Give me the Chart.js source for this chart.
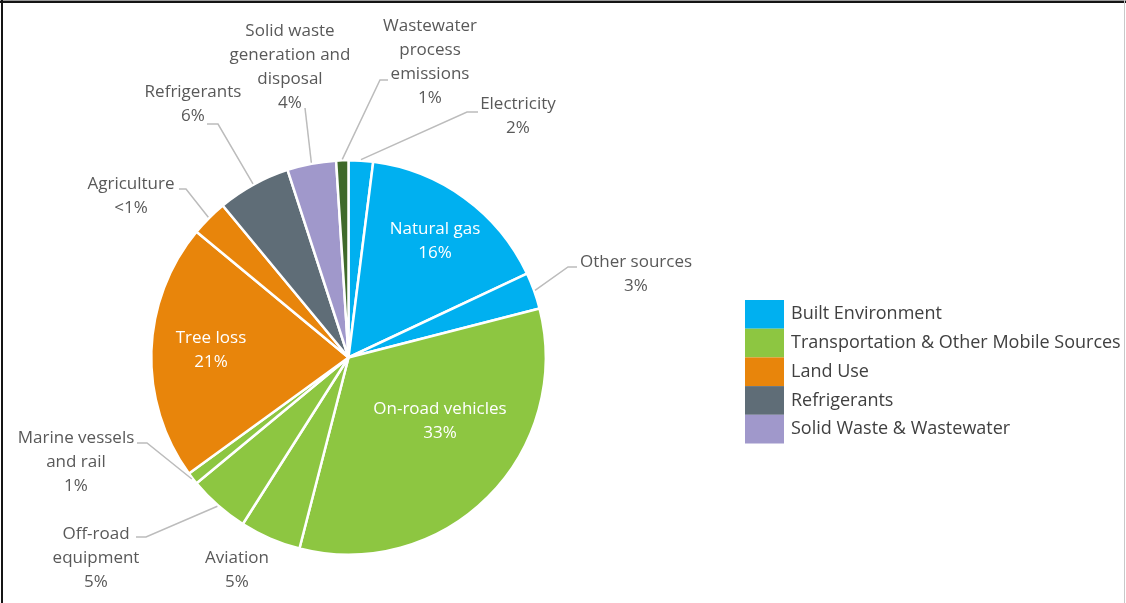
<!DOCTYPE html>
<html>
<head>
<meta charset="utf-8">
<title>Emissions by source</title>
<script src="https://cdn.jsdelivr.net/npm/chart.js@4.4.1/dist/chart.umd.min.js"></script>
<style>
  html, body { margin: 0; padding: 0; background: #fff; }
  #wrap { width: 1126px; height: 603px; }
</style>
</head>
<body>
<div id="wrap"><canvas id="pieChart" width="1126" height="603"></canvas></div>
<script>
// slices, clockwise from 12 o'clock
const sources = [
  'Electricity', 'Natural gas', 'Other sources', 'On-road vehicles', 'Aviation',
  'Off-road equipment', 'Marine vessels and rail', 'Tree loss', 'Agriculture',
  'Refrigerants', 'Solid waste generation and disposal', 'Wastewater process emissions'
];
const shares = [2, 16, 3, 33, 5, 5, 1, 21, 3, 6, 4, 1];
const shareLabels = ['2%', '16%', '3%', '33%', '5%', '5%', '1%', '21%', '<1%', '6%', '4%', '1%'];
const sectorOf = [0, 0, 0, 1, 1, 1, 1, 2, 2, 3, 4, 5];

// legend groups
const sectors = ['Built Environment', 'Transportation & Other Mobile Sources', 'Land Use', 'Refrigerants', 'Solid Waste & Wastewater'];
const sectorColors = ['#00b0f0', '#8dc641', '#e8850b', '#5f6d77', '#a098cb', '#3f6a2b'];

// how each slice label is broken into lines
const labelLines = [
  ['Electricity'], ['Natural gas'], ['Other sources'], ['On-road vehicles'], ['Aviation'],
  ['Off-road', 'equipment'], ['Marine vessels', 'and rail'], ['Tree loss'], ['Agriculture'],
  ['Refrigerants'], ['Solid waste', 'generation and', 'disposal'], ['Wastewater', 'process', 'emissions']
];

// label placement (text centre of first line) and leader elbows, pixels
const labelSpots = [
  { x: 518, y: 104, elbow: [467, 112], end: [478, 112] },
  { x: 435, y: 229, inside: true },
  { x: 636, y: 262, elbow: [568, 267], end: [577, 267] },
  { x: 440, y: 409, inside: true },
  { x: 237, y: 558 },
  { x: 96, y: 534, elbow: [146, 537], end: [136, 537] },
  { x: 76, y: 438, elbow: [147, 443], end: [137, 443] },
  { x: 211, y: 338, inside: true },
  { x: 131, y: 184, elbow: [186, 189], end: [179, 189] },
  { x: 193, y: 92, elbow: [218, 124], end: [207, 124] },
  { x: 290, y: 31, elbow: [305, 108], end: [305, 108] },
  { x: 430, y: 26, elbow: [380, 80], end: [388, 80] }
];

const FONT = '17px "Open Sans", "Noto Sans", sans-serif';
const LINE_H = 24;

const sliceLabels = {
  id: 'sliceLabels',
  afterDatasetsDraw(chart) {
    const ctx = chart.ctx;
    const meta = chart.getDatasetMeta(0);
    ctx.save();
    ctx.font = FONT;
    ctx.textAlign = 'center';
    ctx.textBaseline = 'middle';
    meta.data.forEach((arc, i) => {
      const p = arc.getProps(['x', 'y', 'startAngle', 'endAngle', 'outerRadius'], true);
      const spot = labelSpots[i];
      if (spot.elbow) {
        const mid = (p.startAngle + p.endAngle) / 2;
        const r = p.outerRadius + 1;
        ctx.strokeStyle = '#bcbcbc';
        ctx.lineWidth = 1.5;
        ctx.beginPath();
        ctx.moveTo(p.x + Math.cos(mid) * r, p.y + Math.sin(mid) * r);
        ctx.lineTo(spot.elbow[0], spot.elbow[1]);
        ctx.lineTo(spot.end[0], spot.end[1]);
        ctx.stroke();
      }
      ctx.fillStyle = spot.inside ? '#ffffff' : '#595959';
      const lines = labelLines[i].concat([shareLabels[i]]);
      lines.forEach((t, k) => ctx.fillText(t, spot.x, spot.y + k * LINE_H));
    });
    ctx.restore();
  },
  afterDraw(chart) {
    const ctx = chart.ctx;
    ctx.save();
    // legend
    const lx = 745, ly = 300, bw = 39, bh = 28.7;
    ctx.font = '18px "Open Sans", "Noto Sans", sans-serif';
    ctx.textBaseline = 'middle';
    ctx.textAlign = 'left';
    sectors.forEach((name, i) => {
      ctx.fillStyle = sectorColors[i];
      ctx.fillRect(lx, ly + i * bh, bw, bh);
      ctx.fillStyle = '#404040';
      ctx.fillText(name, lx + bw + 7, ly + i * bh + bh / 2);
    });
    // frame
    ctx.fillStyle = '#9a9a9a';
    ctx.fillRect(0, 0, 1126, 1);
    ctx.fillStyle = '#151515';
    ctx.fillRect(0, 1, 1126, 2);
    ctx.fillRect(1, 0, 2, 603);
    ctx.fillStyle = '#c8c8c8';
    ctx.fillRect(1124, 0, 1, 603);
    ctx.restore();
  }
};

new Chart(document.getElementById('pieChart'), {
  type: 'pie',
  data: {
    labels: sources,
    datasets: [{
      data: shares,
      backgroundColor: sectorOf.map(s => sectorColors[s]),
      borderColor: '#ffffff',
      borderWidth: 2.5
    }]
  },
  options: {
    responsive: false,
    devicePixelRatio: 1,
    animation: false,
    events: [],
    layout: { padding: { left: 150, top: 159, right: 579, bottom: 47 } },
    plugins: {
      legend: { display: false },
      tooltip: { enabled: false }
    }
  },
  plugins: [sliceLabels]
});
</script>
</body>
</html>
